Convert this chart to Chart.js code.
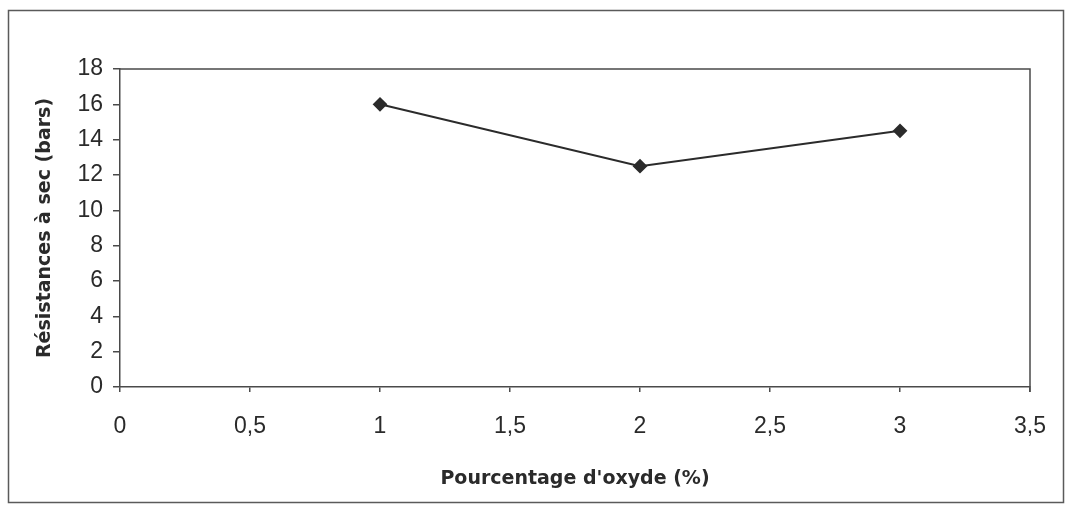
<!DOCTYPE html>
<html lang="fr">
<head>
<meta charset="utf-8">
<title>Résistances à sec</title>
<script src="https://cdn.jsdelivr.net/npm/chart.js@4"></script>
<style>
  html, body { margin: 0; padding: 0; background: #fff; }
  #wrap { position: relative; width: 1068px; height: 505px; }
</style>
</head>
<body>
<div id="wrap"><canvas id="chart"></canvas></div>
<script>
// Teneur en oxyde (%) et résistance à sec mesurée (bars)
const pourcentages = [1, 2, 3];
const resistances = [16, 12.5, 14.5];

// Axes
const xMin = 0, xMax = 3.5, xStep = 0.5;
const yMin = 0, yMax = 18, yStep = 2;
const xTitle = "Pourcentage d'oxyde (%)";
const yTitle = "Résistances à sec (bars)";

const ink = '#2a2a2a';
const frame = '#4a4a4a';

// Cadre extérieur et bords haut/droit de la zone de tracé
const framePlugin = {
  id: 'frames',
  afterDraw(chart) {
    const { ctx, chartArea: a } = chart;
    ctx.save();
    ctx.strokeStyle = '#5a5a5a';
    ctx.lineWidth = 1.5;
    ctx.strokeRect(8.5, 10.5, 1055, 492);
    ctx.strokeStyle = frame;
    ctx.lineWidth = 1.5;
    ctx.beginPath();
    ctx.moveTo(a.left, a.top);
    ctx.lineTo(a.right, a.top);
    ctx.lineTo(a.right, a.bottom + 5);
    ctx.stroke();
    ctx.restore();
  }
};

const tickFont = { family: '"Liberation Sans", Arial, sans-serif', size: 23 };
const titleFont = { family: '"DejaVu Sans", sans-serif', size: 19, weight: 'bold' };

new Chart(document.getElementById('chart'), {
  type: 'line',
  data: {
    datasets: [{
      data: pourcentages.map((x, i) => ({ x, y: resistances[i] })),
      borderColor: '#2b2b2b',
      borderWidth: 2,
      backgroundColor: '#2b2b2b',
      pointStyle: 'rectRot',
      pointRadius: 6,
      pointHoverRadius: 6,
      pointBackgroundColor: '#2b2b2b',
      pointBorderColor: '#2b2b2b',
      tension: 0,
      fill: false
    }]
  },
  options: {
    responsive: true,
    maintainAspectRatio: false,
    animation: false,
    layout: { padding: { left: 30, top: 69, right: 38, bottom: 11 } },
    plugins: {
      legend: { display: false },
      tooltip: { enabled: false }
    },
    scales: {
      x: {
        type: 'linear',
        min: xMin,
        max: xMax,
        afterFit(scale) { scale.height = 107; },
        ticks: {
          stepSize: xStep,
          color: ink,
          font: tickFont,
          padding: 21,
          maxRotation: 0,
          callback: v => String(v).replace('.', ',')
        },
        grid: { drawOnChartArea: false, drawTicks: true, tickLength: 5, color: frame, lineWidth: 1.5 },
        border: { display: true, color: frame, width: 1.5 },
        title: { display: true, text: xTitle, color: ink, font: titleFont }
      },
      y: {
        min: yMin,
        max: yMax,
        afterFit(scale) { scale.width = 90; },
        ticks: {
          stepSize: yStep,
          color: ink,
          font: tickFont,
          padding: 10
        },
        grid: { drawOnChartArea: false, drawTicks: true, tickLength: 7, color: frame, lineWidth: 1.5 },
        border: { display: true, color: frame, width: 1.5 },
        title: { display: true, text: yTitle, color: ink, font: titleFont }
      }
    }
  },
  plugins: [framePlugin]
});
</script>
</body>
</html>
